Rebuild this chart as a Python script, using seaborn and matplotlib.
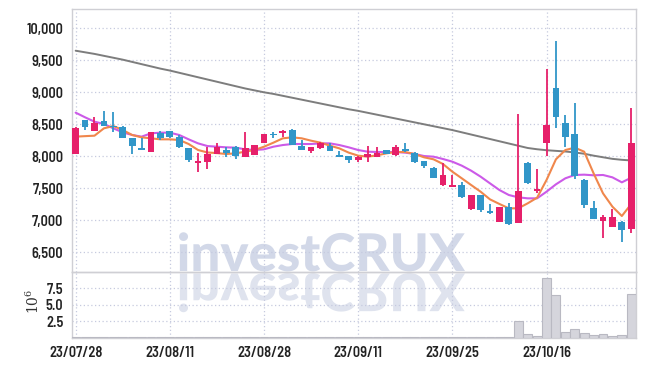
import os
import numpy as np
import pandas as pd
import matplotlib
matplotlib.use("Agg")
import matplotlib.pyplot as plt
import seaborn as sns
from matplotlib import font_manager as fm
from matplotlib.ticker import FuncFormatter, FixedLocator
from matplotlib.textpath import TextPath
from matplotlib.patches import PathPatch
from matplotlib.font_manager import FontProperties
from matplotlib.transforms import Affine2D

# ---------------- data ----------------
dates = ["23/07/28", "23/07/31", "23/08/01", "23/08/02", "23/08/03", "23/08/04", "23/08/07", "23/08/08",
         "23/08/09", "23/08/10", "23/08/11", "23/08/14", "23/08/16", "23/08/17", "23/08/18", "23/08/21",
         "23/08/22", "23/08/23", "23/08/24", "23/08/25", "23/08/28", "23/08/29", "23/08/30", "23/08/31",
         "23/09/01", "23/09/04", "23/09/05", "23/09/06", "23/09/07", "23/09/08", "23/09/11", "23/09/12",
         "23/09/13", "23/09/14", "23/09/15", "23/09/18", "23/09/19", "23/09/20", "23/09/21", "23/09/22",
         "23/09/25", "23/09/26", "23/09/27", "23/10/04", "23/10/05", "23/10/06", "23/10/10", "23/10/11",
         "23/10/12", "23/10/13", "23/10/16", "23/10/17", "23/10/18", "23/10/19", "23/10/20", "23/10/23",
         "23/10/24", "23/10/25", "23/10/26", "23/10/27"]

open_ = [8030, 8570, 8400, 8550, 8480, 8460, 8280, 8130, 8065, 8360,
         8390, 8305, 8130, 7890, 7915, 8030, 8100, 8150, 7995, 8020,
         8215, 8340, 8370, 8410, 8165, 8090, 8125, 8165, 8020, 8005,
         7945, 7985, 7995, 8100, 8015, 8095, 8055, 7925, 7820, 7550,
         7525, 7550, 7170, 7395, 7150, 6980, 7200, 6955, 7895, 7450,
         8200, 9060, 8515, 8350, 7630, 7185, 6995, 6900, 6980, 6870]
high = [8450, 8570, 8620, 8710, 8690, 8470, 8280, 8280, 8380, 8400,
        8400, 8330, 8130, 8045, 8150, 8200, 8150, 8155, 8375, 8180,
        8355, 8375, 8410, 8420, 8255, 8150, 8230, 8200, 8090, 8005,
        8000, 8165, 8150, 8105, 8175, 8200, 8060, 7930, 7830, 7900,
        7710, 7605, 7400, 7400, 7255, 7210, 7265, 8655, 7905, 7795,
        9360, 9800, 8645, 8840, 7640, 7300, 7085, 7170, 6985, 8750]
low = [8030, 8410, 8400, 8470, 8375, 8280, 8040, 8095, 8060, 8250,
       8280, 8125, 7915, 7750, 7795, 8030, 7995, 7950, 7990, 8015,
       8210, 8290, 8305, 8170, 8095, 8055, 8120, 8085, 7990, 7890,
       7915, 7915, 7990, 8030, 8010, 8060, 7890, 7810, 7660, 7535,
       7520, 7355, 7165, 7125, 7105, 6975, 6930, 6950, 7565, 7420,
       8005, 8445, 8150, 7640, 7185, 7020, 6720, 6895, 6655, 6795]
close = [8440, 8450, 8515, 8470, 8450, 8280, 8165, 8100, 8375, 8290,
         8305, 8150, 7940, 7920, 8035, 8150, 8055, 8005, 8125, 8175,
         8350, 8330, 8380, 8175, 8100, 8140, 8215, 8090, 7995, 7940,
         7995, 8035, 8055, 8035, 8150, 8085, 7915, 7850, 7665, 7710,
         7550, 7360, 7395, 7160, 7110, 7200, 6935, 7460, 7590, 7485,
         8490, 8610, 8305, 7695, 7245, 7025, 7050, 7050, 6850, 8200]
volume_m = [0.04, 0.04, 0.05, 0.15, 0.05, 0.15, 0.04, 0.03, 0.05, 0.03,
            0.03, 0.03, 0.04, 0.03, 0.03, 0.03, 0.02, 0.02, 0.03, 0.02,
            0.03, 0.02, 0.02, 0.03, 0.02, 0.02, 0.02, 0.02, 0.02, 0.02,
            0.02, 0.02, 0.02, 0.02, 0.02, 0.02, 0.02, 0.02, 0.03, 0.03,
            0.02, 0.03, 0.03, 0.03, 0.02, 0.03, 0.04, 2.53, 0.49, 0.23,
            9.08, 6.52, 0.84, 1.30, 0.69, 0.33, 0.49, 0.18, 0.33, 6.67]
ma_short = [8307, 8315, 8322, 8437, 8473, 8411, 8333, 8296, 8281, 8265,
            8265, 8255, 8192, 8098, 8060, 8050, 8036, 8046, 8072, 8098,
            8150, 8213, 8281, 8296, 8281, 8244, 8213, 8166, 8124, 8057,
            8010, 7994, 8015, 8046, 8067, 8067, 8036, 7984, 7953, 7880,
            7760, 7656, 7551, 7447, 7327, 7255, 7187, 7187, 7265, 7353,
            7629, 7953, 8098, 8135, 8072, 7734, 7421, 7213, 7067, 7255]
ma_mid = [8682, 8609, 8541, 8505, 8437, 8374, 8333, 8307, 8359, 8369,
          8369, 8333, 8265, 8202, 8160, 8150, 8140, 8135, 8109, 8098,
          8109, 8150, 8176, 8192, 8192, 8192, 8202, 8202, 8176, 8140,
          8098, 8072, 8067, 8067, 8067, 8057, 8036, 8004, 7994, 7958,
          7916, 7854, 7775, 7682, 7577, 7473, 7395, 7359, 7343, 7343,
          7447, 7562, 7656, 7708, 7713, 7703, 7708, 7671, 7593, 7666]
ma_long = [9650, 9625, 9600, 9570, 9540, 9510, 9475, 9440, 9405, 9370,
           9340, 9305, 9270, 9235, 9200, 9165, 9130, 9095, 9060, 9030,
           9000, 8975, 8945, 8915, 8885, 8855, 8825, 8795, 8765, 8735,
           8710, 8680, 8650, 8620, 8590, 8560, 8530, 8500, 8470, 8440,
           8410, 8375, 8340, 8305, 8270, 8235, 8200, 8165, 8130, 8110,
           8095, 8085, 8075, 8060, 8040, 8010, 7985, 7960, 7945, 7935]
price_ticks = [6500, 7000, 7500, 8000, 8500, 9000, 9500, 10000]
volume_ticks = [2.5, 5.0, 7.5]
date_tick_every = 10

# ---------------- style ----------------
sns.set_theme(style="white")


def _weight_val(w):
    table = {"normal": 400, "regular": 400, "book": 400, "medium": 500, "semibold": 600,
             "demibold": 600, "bold": 700, "heavy": 800, "black": 900, "light": 300,
             "ultralight": 200, "extra bold": 800}
    if isinstance(w, (int, float)):
        return w
    return table.get(str(w), 400)


def _is_narrow(f):
    s = f.stretch
    if isinstance(s, (int, float)):
        narrow_s = s < 500
    else:
        narrow_s = "condensed" in str(s)
    return narrow_s or "Narrow" in f.name or "Condensed" in f.name


# pick a narrow upright font (few candidates) whose "10,000" proportions best match
TARGET_RATIO = 36.0 / 10.3
best = None
seen = set()
for f in fm.fontManager.ttflist:
    if f.style != "normal" or f.fname in seen:
        continue
    if "CJK" in f.fname or "CJK" in f.name or "Mono" in f.name or "Serif" in f.name:
        continue
    if not _is_narrow(f):
        continue
    wv = _weight_val(f.weight)
    if wv < 400 or wv > 700:
        continue
    try:
        if os.path.getsize(f.fname) > 3_000_000:
            continue
    except OSError:
        continue
    seen.add(f.fname)
    if len(seen) > 40:
        break
    try:
        p = FontProperties(fname=f.fname)
        w = TextPath((0, 0), "10,000", size=100, prop=p).get_extents().width
        h = TextPath((0, 0), "0", size=100, prop=p).get_extents().height
    except Exception:
        continue
    if h <= 0:
        continue
    score = abs(w / h - TARGET_RATIO) + abs(wv - 600) / 400.0
    if best is None or score < best[0]:
        best = (score, f.fname, h)

DIGIT_PX = 10.3
if best is not None:
    size_pt = DIGIT_PX / (best[2] / 100.0) * 72.0 / 100.0
    tick_fp = FontProperties(fname=best[1], size=size_pt)
else:
    tick_fp = FontProperties(family="Roboto", weight="medium", size=9.5)

plt.rcParams["font.family"] = ["DejaVu Sans"]
plt.rcParams["mathtext.fontset"] = "dejavuserif"

UP = "#e6206a"
DOWN = "#3196c8"
GRID = "#c6cadf"
SPINE = "#cfcfd4"
TXT = "#222222"

df = pd.DataFrame({"idx": np.arange(len(dates)), "date": dates, "open": open_, "high": high,
                   "low": low, "close": close, "vol": volume_m,
                   "ma_short": ma_short, "ma_mid": ma_mid, "ma_long": ma_long})

fig = plt.figure(figsize=(6.45, 3.66), dpi=100, facecolor="white")
L, R = 71.7 / 645, 635.5 / 645
ax = fig.add_axes([L, 1 - 272 / 366, R - L, (272 - 9.3) / 366])
axv = fig.add_axes([L, 1 - 337.5 / 366, R - L, (337.5 - 272) / 366], sharex=ax)
for a in (ax, axv):
    a.set_facecolor("none")

# watermark + reflection (behind axes content)
fp = FontProperties(family="Lato", weight="black")
tp = TextPath((0, 0), "investCRUX", size=100, prop=fp)
ext = tp.get_extents()
capext = TextPath((0, 0), "C", size=100, prop=fp).get_extents()
sx = (465 - 179) / ext.width
sy = 38.5 / capext.height
to_in = Affine2D().scale(1 / 100.0) + fig.dpi_scale_trans
main_tr = Affine2D().translate(-ext.x0, 0).scale(sx, sy).translate(179, 366 - 271) + to_in
refl_tr = Affine2D().translate(-ext.x0, 0).scale(sx, -sy).translate(179, 366 - 273.5) + to_in
fig.add_artist(PathPatch(tp, transform=main_tr, facecolor="#d2d8e8", edgecolor="none", zorder=-5))
fig.add_artist(PathPatch(tp, transform=refl_tr, facecolor="#dfe3ee", edgecolor="none", zorder=-5))

# moving averages
sns.lineplot(data=df, x="idx", y="ma_long", ax=ax, color="#7d7d7d", lw=1.4, zorder=2)
sns.lineplot(data=df, x="idx", y="ma_mid", ax=ax, color="#cc5ae8", lw=1.5, zorder=2)
sns.lineplot(data=df, x="idx", y="ma_short", ax=ax, color="#f0874c", lw=1.5, zorder=2)

# candles
o = df["open"].to_numpy(float)
c = df["close"].to_numpy(float)
colors = [UP if cc >= oo else DOWN for oo, cc in zip(o, c)]
body_lo = np.minimum(o, c)
body_h = np.maximum(np.abs(c - o), 25)
ax.vlines(df["idx"], df["low"], df["high"], colors=colors, lw=1.3, zorder=3)
ax.bar(df["idx"], body_h, bottom=body_lo, width=0.72, color=colors, zorder=4, linewidth=0)

# volume
axv.bar(df["idx"], df["vol"], width=0.95, color="#d5d5dc", edgecolor="#b9b9c2", linewidth=0.8, zorder=3)

# axes limits & ticks
ax.set_xlim(-0.42, 59.45)
ax.set_ylim(6192, 10297)
axv.set_ylim(0, 10.0)

ax.yaxis.set_major_locator(FixedLocator(price_ticks))
ax.yaxis.set_major_formatter(FuncFormatter(lambda v, p: f"{int(v):,}"))
axv.yaxis.set_major_locator(FixedLocator(volume_ticks))
axv.yaxis.set_major_formatter(FuncFormatter(lambda v, p: f"{v:.1f}"))
xt = list(range(0, len(dates), date_tick_every))
axv.xaxis.set_major_locator(FixedLocator(xt))
axv.set_xticklabels([dates[i] for i in xt])
plt.setp(ax.get_xticklabels(), visible=False)

for a in (ax, axv):
    a.grid(True, color=GRID, linestyle=(0, (1, 2)), lw=0.9)
    a.set_axisbelow(True)
    a.tick_params(length=0, colors=TXT, pad=6)
    for s in a.spines.values():
        s.set_color(SPINE)
        s.set_linewidth(1.0)
    a.set_xlabel("")
    a.set_ylabel("")
axv.tick_params(axis="x", pad=6)

for lab in ax.get_yticklabels() + axv.get_yticklabels() + axv.get_xticklabels():
    lab.set_fontproperties(tick_fp)

fig.text(33 / 645, 1 - 301 / 366, r"$10^{6}$", rotation=90, ha="center", va="center",
         fontsize=10, color="#333333")

fig.savefig("out.png", dpi=100, facecolor="white")
